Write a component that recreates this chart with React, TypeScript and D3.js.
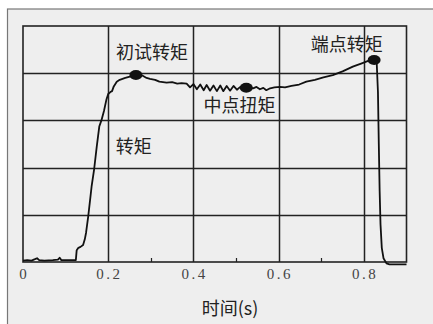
import * as d3 from "d3";

// torque trace: time (s) and torque in grid units
const times = [
  0, 0.01, 0.02, 0.028, 0.033, 0.038, 0.05, 0.07, 0.082, 0.086, 0.09, 0.11, 0.124,
  0.126, 0.13, 0.135, 0.141, 0.145, 0.148, 0.153, 0.157, 0.161, 0.167, 0.173, 0.179,
  0.184, 0.19, 0.196, 0.2, 0.205, 0.209, 0.213, 0.22, 0.227, 0.24, 0.255, 0.265, 0.28,
  0.29, 0.298, 0.31, 0.32, 0.337, 0.35, 0.362, 0.372, 0.384, 0.392, 0.4, 0.408, 0.416,
  0.424, 0.431, 0.439, 0.447, 0.455, 0.463, 0.47, 0.478, 0.486, 0.494, 0.502, 0.51,
  0.518, 0.524, 0.532, 0.54, 0.548, 0.556, 0.564, 0.571, 0.58, 0.59, 0.603, 0.615,
  0.63, 0.648, 0.665, 0.685, 0.705, 0.727, 0.75, 0.774, 0.795, 0.81, 0.824, 0.83,
  0.833, 0.835, 0.837, 0.839, 0.842, 0.846, 0.853, 0.86, 0.9,
];
const torque = [
  0.03, 0.04, 0.03, 0.06, 0.08, 0.04, 0.03, 0.04, 0.05, 0.09, 0.04, 0.04, 0.04,
  0.25, 0.3, 0.32, 0.36, 0.48, 0.62, 0.96, 1.28, 1.6, 1.97, 2.44, 2.87,
  3.0, 3.2, 3.45, 3.56, 3.6, 3.62, 3.72, 3.82, 3.86, 3.9, 3.94, 3.96, 3.95,
  3.9, 3.88, 3.86, 3.82, 3.8, 3.81, 3.78, 3.79, 3.78, 3.7, 3.77, 3.66, 3.76,
  3.64, 3.75, 3.63, 3.74, 3.62, 3.74, 3.62, 3.73, 3.63, 3.73, 3.65, 3.71,
  3.68, 3.69, 3.7, 3.68, 3.71, 3.66, 3.69, 3.64, 3.68, 3.7, 3.71, 3.7,
  3.73, 3.76, 3.82, 3.86, 3.91, 3.96, 4.04, 4.14, 4.21, 4.26, 4.28, 4.24,
  3.6, 2.5, 1.5, 0.8, 0.3, 0.08, -0.03, -0.05, -0.05,
];

const xTicks = [0, 0.2, 0.4, 0.6, 0.8];
const xTickLabels = ["0", "0.2", "0.4", "0.6", "0.8"];
const minorTicks = [0.3, 0.5, 0.7];
const yGrid = [1, 2, 3, 4];

const marks = [
  { t: 0.265, v: 3.96, label: "初试转矩", lt: 0.303, lv: 4.3 },
  { t: 0.524, v: 3.69, label: "中点扭矩", lt: 0.508, lv: 3.17 },
  { t: 0.824, v: 4.28, label: "端点转矩", lt: 0.76, lv: 4.47 },
];
const curveLabel = { text: "转矩", t: 0.26, v: 2.3 };

export default function App() {
  const W = 433;
  const H = 324;
  const x = d3.scaleLinear().domain([0, 0.9]).range([23, 406.5]);
  const y = d3.scaleLinear().domain([0, 5]).range([262, 26]);
  const pts: [number, number][] = times.map((t, i) => [t, torque[i]]);
  const line = d3
    .line<[number, number]>()
    .x((d) => x(d[0]))
    .y((d) => y(d[1]));
  const grid = "#222";
  const cjk = "'Noto Sans CJK SC', sans-serif";

  // grid drawn as one path each way, snapped to the pixel grid
  const vGrid = xTicks
    .slice(1)
    .map((t) => `M${Math.round(x(t)) + 0.5},${y(5)}V${y(0)}`)
    .join("");
  const hGrid = yGrid
    .map((g) => `M${x(0)},${Math.round(y(g)) + 0.5}H${x(0.9)}`)
    .join("");
  const minor = minorTicks
    .map((t) => `M${Math.round(x(t)) + 0.5},${y(0)}v-4`)
    .join("");

  return (
    <svg
      width={W}
      height={H}
      style={{ position: "absolute", left: 0, top: 0, background: "#fff" }}
    >
      <rect x={7.5} y={9} width={W} height={H} fill="#eeeeee" stroke="#777" strokeWidth={1.2} />
      {/* plot frame */}
      <rect
        x={x(0)}
        y={y(5)}
        width={x(0.9) - x(0)}
        height={y(0) - y(5)}
        fill="none"
        stroke={grid}
        strokeWidth={1.6}
      />
      <path d={hGrid} stroke={grid} strokeWidth={1.5} fill="none" />
      <path d={vGrid} stroke={grid} strokeWidth={1.5} fill="none" />
      <path d={minor} stroke={grid} strokeWidth={1.2} fill="none" />
      <path d={line(pts) ?? ""} fill="none" stroke="#111" strokeWidth={1.8} strokeLinejoin="round" />
      {marks.map((m) => (
        <ellipse key={m.label} cx={x(m.t)} cy={y(m.v)} rx={6.5} ry={5} fill="#111" />
      ))}
      {marks.map((m) => (
        <text
          key={"l" + m.label}
          x={x(m.lt)}
          y={y(m.lv)}
          textAnchor="middle"
          fontFamily={cjk}
          fontSize={18}
          fill="#222"
        >
          {m.label}
        </text>
      ))}
      <text x={x(curveLabel.t)} y={y(curveLabel.v)} textAnchor="middle" fontFamily={cjk} fontSize={18} fill="#222">
        {curveLabel.text}
      </text>
      {xTicks.map((t, i) => (
        <text
          key={"t" + t}
          x={x(t) + 1.2}
          y={279}
          textAnchor="middle"
          fontFamily="'Liberation Serif', serif"
          fontSize={15}
          letterSpacing={2.5}
          fill="#444"
        >
          {xTickLabels[i]}
        </text>
      ))}
      <text x={230} y={315} textAnchor="middle" fontFamily={cjk} fontSize={18} fill="#222">
        时间(s)
      </text>
    </svg>
  );
}
